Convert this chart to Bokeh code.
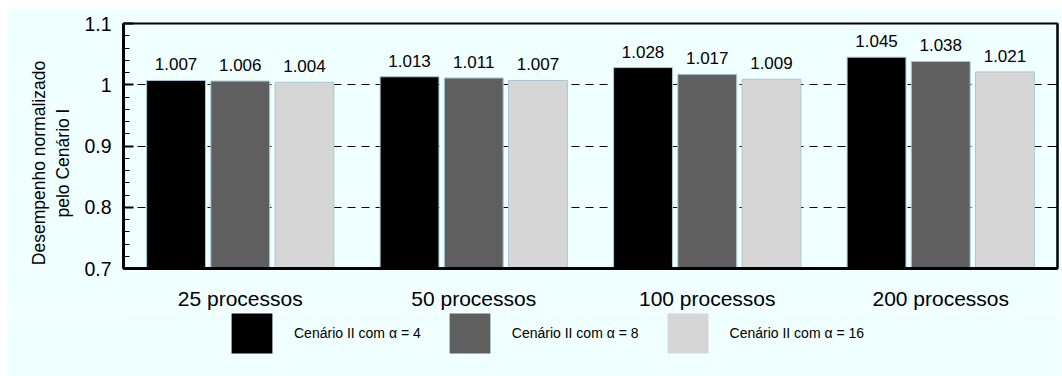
from bokeh.plotting import figure
from bokeh.layouts import column
from bokeh.models import (ColumnDataSource, FactorRange, FixedTicker, LinearAxis,
                          LabelSet, Legend, LegendItem)
from bokeh.core.properties import value
from bokeh.transform import dodge
from bokeh.embed import file_html
from bokeh.resources import INLINE

categories = ["25 processos", "50 processos", "100 processos", "200 processos"]
alpha4 = [1.007, 1.013, 1.028, 1.045]
alpha8 = [1.006, 1.011, 1.017, 1.038]
alpha16 = [1.004, 1.007, 1.009, 1.021]
series_names = ["Cenário II com α = 4", "Cenário II com α = 8", "Cenário II com α = 16"]
y_ticks = [0.7, 0.8, 0.9, 1.0, 1.1]
y_tick_labels = ["0.7", "0.8", "0.9", "1", "1.1"]
y_title_lines = ["Desempenho normalizado", "pelo Cenário I"]

FONT = "Liberation Sans"
BG = "#f0ffff"
colors = ["#000000", "#5f5f5f", "#d6d6d6"]
offsets = [-0.275, 0.0, 0.275]
cols = ["a4", "a8", "a16"]

src = ColumnDataSource(dict(cat=categories, a4=alpha4, a8=alpha8, a16=alpha16,
                            l4=[f"{v:.3f}" for v in alpha4],
                            l8=[f"{v:.3f}" for v in alpha8],
                            l16=[f"{v:.3f}" for v in alpha16]))

p = figure(x_range=FactorRange(*categories), y_range=(0.7, 1.1),
           frame_width=934, frame_height=245, margin=(8, 0, 0, 6),
           output_backend="svg", toolbar_location=None,
           min_border_left=117, min_border_right=4, min_border_top=15, min_border_bottom=37)
p.background_fill_color = BG
p.border_fill_color = BG
p.outline_line_color = "black"
p.outline_line_width = 2

for col, lab, off, c in zip(cols, ["l4", "l8", "l16"], offsets, colors):
    p.vbar(x=dodge("cat", off, range=p.x_range), top=col, bottom=0.7, width=0.252,
           source=src, fill_color=c, line_color="#a9c6d6", line_width=1)
    ls = LabelSet(x=dodge("cat", off, range=p.x_range), y=col, text=lab, source=src,
                  text_align="center", text_baseline="alphabetic", y_offset=10,
                  text_font=value(FONT), text_font_size=value("17px"), text_color="black")
    p.add_layout(ls)

# y axis
p.yaxis.ticker = FixedTicker(ticks=y_ticks,
                             minor_ticks=[0.7 + 0.02 * i for i in range(21)])
p.yaxis.major_label_overrides = {t: l for t, l in zip(y_ticks, y_tick_labels)}
p.yaxis.major_label_text_font = FONT
p.yaxis.major_label_text_font_size = "19.5px"
p.yaxis.major_label_text_color = "black"
p.yaxis.major_tick_in = 10
p.yaxis.major_tick_out = 0
p.yaxis.major_tick_line_width = 2
p.yaxis.minor_tick_in = 6
p.yaxis.minor_tick_out = 0
p.yaxis.axis_line_width = 3
p.yaxis.major_label_standoff = 12
pad = "\u00a0" * 7
p.yaxis.axis_label = "\n".join(line + pad for line in y_title_lines)
p.yaxis.axis_label_text_font = FONT
p.yaxis.axis_label_text_font_size = "17.5px"
p.yaxis.axis_label_text_font_style = "normal"
p.yaxis.axis_label_text_color = "black"
p.yaxis.axis_label_standoff = 8

right = LinearAxis(ticker=FixedTicker(ticks=y_ticks), major_label_text_font_size="0px",
                   major_tick_in=6, major_tick_out=0, minor_tick_line_color=None,
                   axis_line_width=2, major_label_standoff=0)
p.add_layout(right, "right")

# x axis
p.xaxis.major_label_text_font = FONT
p.xaxis.major_label_text_font_size = "21px"
p.xaxis.major_label_text_color = "black"
p.xaxis.major_tick_line_color = None
p.xaxis.axis_line_width = 3
p.xaxis.major_label_standoff = 12

p.xgrid.grid_line_color = None
p.ygrid.ticker = FixedTicker(ticks=[0.8, 0.9, 1.0])
p.ygrid.grid_line_color = "black"
p.ygrid.grid_line_dash = "8 6"
p.ygrid.grid_line_width = 1

# legend strip (bars drawn out of its visible range, only used for the legend swatches)
leg = figure(x_range=FactorRange(*categories), y_range=(5, 6),
             width=1056, height=71, margin=(0, 0, 0, 6),
             output_backend="svg", toolbar_location=None,
             x_axis_type=None, y_axis_type=None,
             min_border_left=0, min_border_right=0, min_border_top=0, min_border_bottom=0)
leg.background_fill_color = BG
leg.border_fill_color = BG
leg.outline_line_color = None
leg.grid.grid_line_color = None
leg_renderers = []
for col, off, c in zip(cols, offsets, colors):
    r = leg.vbar(x=dodge("cat", off, range=leg.x_range), top=col, bottom=0.7, width=0.252,
                 source=src, fill_color=c, line_color=None)
    leg_renderers.append(r)

legend = Legend(items=[LegendItem(label=n, renderers=[r]) for n, r in zip(series_names, leg_renderers)],
                orientation="horizontal", location=(103, 25),
                glyph_width=51, glyph_height=50, label_standoff=17, spacing=23,
                label_text_font=FONT, label_text_font_size="14px", label_text_color="black",
                background_fill_alpha=0, border_line_color=None, padding=0, margin=0)
leg.add_layout(legend, "center")

layout = column(p, leg, spacing=0)
open("out.html", "w").write(file_html(layout, INLINE))
